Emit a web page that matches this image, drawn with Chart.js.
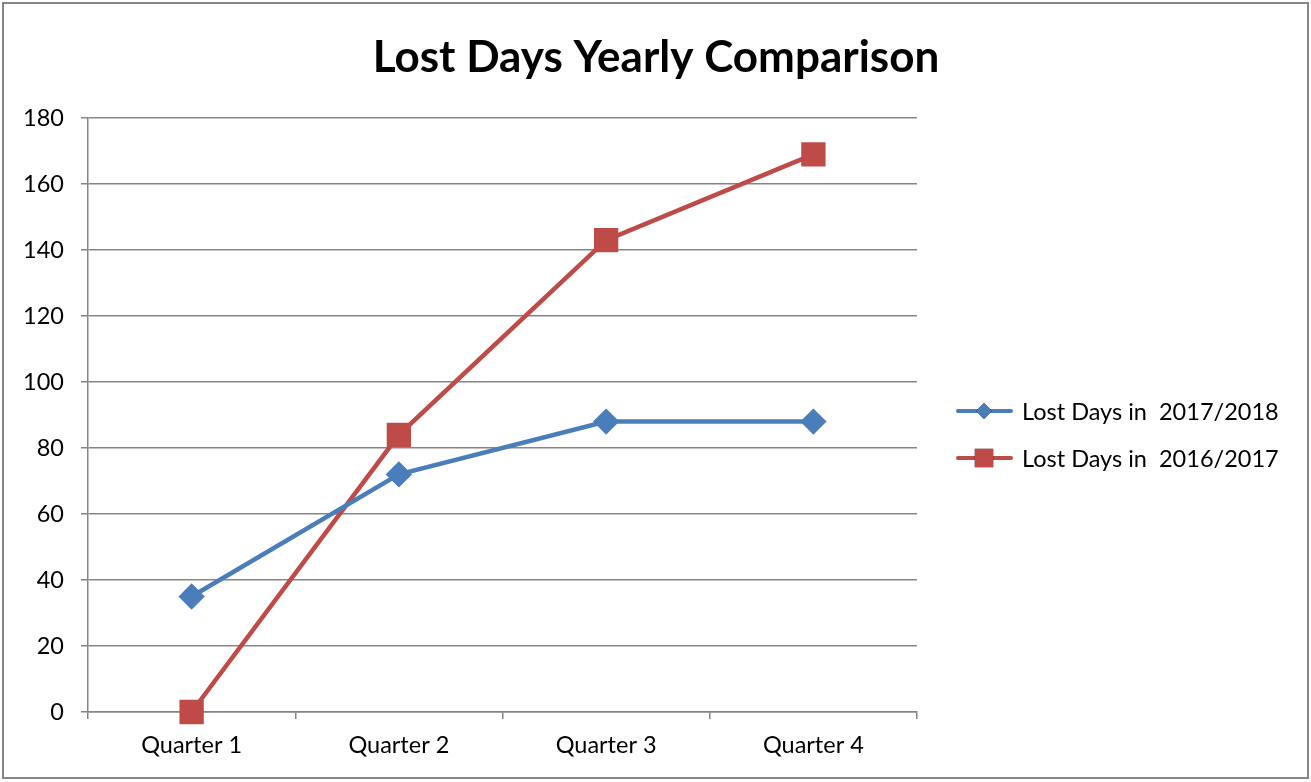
<!DOCTYPE html>
<html>
<head>
<meta charset="utf-8">
<script src="https://cdn.jsdelivr.net/npm/chart.js@4"></script>
<style>
  html, body { margin: 0; padding: 0; background: #fff; }
  #wrap { width: 1311px; height: 782px; }
</style>
</head>
<body>
<div id="wrap"><canvas id="lostDays" width="1311" height="782"></canvas></div>
<script>
// data
const quarters = ["Quarter 1", "Quarter 2", "Quarter 3", "Quarter 4"];
const lost2017_2018 = [35, 72, 88, 88];
const lost2016_2017 = [0, 84, 143, 169];
const yTicks = [0, 20, 40, 60, 80, 100, 120, 140, 160, 180];
const seriesNames = ["Lost Days in  2017/2018", "Lost Days in  2016/2017"];
const chartTitle = "Lost Days Yearly Comparison";

const BLUE = "#4A7EBB";
const RED = "#BE4B48";
const GRID = "#868686";
const FONT = "Lato, 'Open Sans', sans-serif";

// title, legend and outer frame
const decorations = {
  id: "decorations",
  afterDraw(chart) {
    const ctx = chart.ctx;
    ctx.save();
    // frame
    ctx.strokeStyle = GRID;
    ctx.lineWidth = 2;
    ctx.strokeRect(3, 3, 1305, 775);
    // title
    ctx.fillStyle = "#000";
    ctx.font = "bold 44px " + FONT;
    ctx.textAlign = "center";
    ctx.textBaseline = "middle";
    ctx.fillText(chartTitle, 656, 58);
    // legend
    const items = [
      { y: 411, color: BLUE, style: "rectRot", r: 8 },
      { y: 458, color: RED, style: "rect", r: 13 }
    ];
    ctx.font = "23.5px " + FONT;
    ctx.textAlign = "left";
    items.forEach((it, i) => {
      ctx.strokeStyle = it.color;
      ctx.lineWidth = 4;
      ctx.lineCap = "round";
      ctx.beginPath();
      ctx.moveTo(958, it.y);
      ctx.lineTo(1011, it.y);
      ctx.stroke();
      Chart.helpers.drawPoint(ctx, { pointStyle: it.style, radius: it.r, borderWidth: 0 }, 984, it.y);
      ctx.fillStyle = it.color;
      ctx.fill();
      ctx.fillStyle = "#000";
      ctx.fillText(seriesNames[i], 1022, it.y + 1);
    });
    ctx.restore();
  }
};

document.addEventListener("DOMContentLoaded", function() {

new Chart("lostDays", {
  type: "line",
  data: {
    labels: quarters,
    datasets: [{
      label: seriesNames[0],
      data: lost2017_2018,
      borderColor: BLUE,
      backgroundColor: BLUE,
      borderWidth: 4.5,
      pointStyle: "rectRot",
      pointRadius: 10,
      pointHoverRadius: 10,
      clip: false,
      tension: 0
    }, {
      label: seriesNames[1],
      data: lost2016_2017,
      borderColor: RED,
      backgroundColor: RED,
      borderWidth: 4.5,
      pointStyle: "rect",
      pointRadius: 14,
      pointHoverRadius: 14,
      clip: false,
      tension: 0
    }]
  },
  options: {
    responsive: false,
    animation: false,
    layout: {
      padding: { left: 0, right: 394, top: 118, bottom: 0 }
    },
    plugins: {
      legend: { display: false },
      title: { display: false },
      tooltip: { enabled: false }
    },
    scales: {
      x: {
        offset: true,
        grid: {
          offset: true,
          drawOnChartArea: false,
          color: GRID,
          lineWidth: 1.5,
          tickLength: 7
        },
        border: { color: GRID, width: 1.5 },
        ticks: {
          color: "#000",
          font: { family: FONT, size: 23.5 },
          padding: 12,
          maxRotation: 0
        },
        afterFit(scale) { scale.height = 70; }
      },
      y: {
        min: 0,
        max: 180,
        afterBuildTicks(scale) { scale.ticks = yTicks.map(v => ({ value: v })); },
        grid: {
          color: GRID,
          lineWidth: 1.5,
          tickLength: 7
        },
        border: { color: GRID, width: 1.5 },
        ticks: {
          color: "#000",
          font: { family: FONT, size: 23.5 },
          padding: 17
        },
        afterFit(scale) { scale.width = 88; }
      }
    }
  },
  plugins: [decorations]
});
});
</script>
</body>
</html>
